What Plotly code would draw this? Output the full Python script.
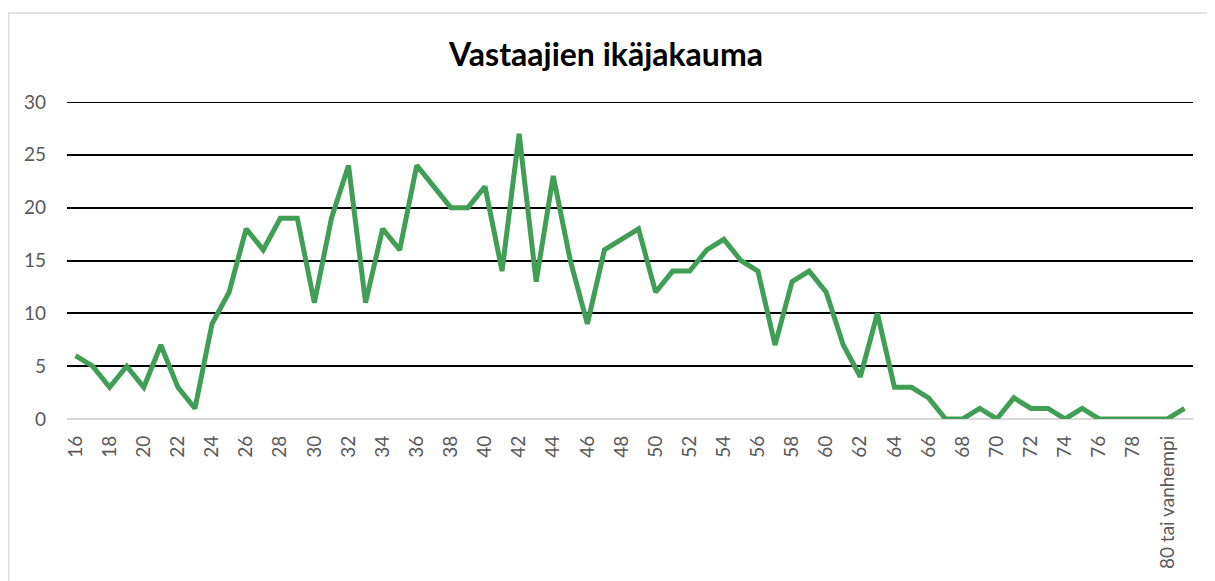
import plotly.graph_objects as go

# Data
ages = [str(a) for a in range(16, 80)] + ["80 tai vanhempi", ""]
counts = [6, 5, 3, 5, 3, 7, 3, 1, 9, 12,
          18, 16, 19, 19, 11, 19, 24, 11, 18, 16,
          24, 22, 20, 20, 22, 14, 27, 13, 23, 15,
          9, 16, 17, 18, 12, 14, 14, 16, 17, 15,
          14, 7, 13, 14, 12, 7, 4, 10, 3, 3,
          2, 0, 0, 1, 0, 2, 1, 1, 0, 1,
          0, 0, 0, 0, 0, 1]
y_ticks = [0, 5, 10, 15, 20, 25, 30]
title_text = "Vastaajien ikäjakauma"

x_idx = list(range(len(ages)))

fig = go.Figure()
fig.add_trace(go.Scatter(
    x=x_idx, y=counts, mode="lines",
    line=dict(color="#409e55", width=5),
    hoverinfo="skip",
))

# page body has an 8px margin
W, H = 1207, 573
L, T = 59, 94
PW, PH = 1126, 317
R, B = W - L - PW, H - T - PH

fig.update_layout(
    width=W, height=H,
    margin=dict(l=L, r=R, t=T, b=B, pad=0, autoexpand=False),
    paper_bgcolor="white", plot_bgcolor="white",
    showlegend=False,
    title=dict(text="<b>" + title_text + "</b>", x=(606 - 8) / W, xanchor="center",
               y=1 - 47 / H, yanchor="middle",
               font=dict(family="Lato", size=32, color="black")),
    xaxis=dict(
        range=[-0.5, len(ages) - 0.5],
        tickmode="array",
        tickvals=x_idx[::2], ticktext=ages[::2],
        tickangle=-90,
        showgrid=False, zeroline=False, showline=False,
        ticks="", ticklabelstandoff=12, automargin=False,
        tickfont=dict(family="Lato", size=19, color="#595959"),
        fixedrange=True,
    ),
    yaxis=dict(
        range=[0, 30],
        tickmode="array", tickvals=y_ticks,
        showgrid=True, gridcolor="black", gridwidth=1.8,
        zeroline=True, zerolinecolor="#d9d9d9", zerolinewidth=2,
        showline=False, ticks="", ticklabelstandoff=20, automargin=False,
        tickfont=dict(family="Lato", size=19, color="#595959"),
        fixedrange=True,
    ),
)

# top gridline (plotly skips gridlines lying exactly on the range edge)
fig.add_shape(type="line", xref="paper", yref="y",
              x0=0, x1=1, y0=y_ticks[-1], y1=y_ticks[-1],
              line=dict(color="black", width=1.8), layer="below")

# chart border (light gray frame, cropped at right/bottom)
fig.add_shape(type="rect", xref="paper", yref="paper",
              x0=(0.5 - L) / PW, x1=(W + 20 - L) / PW,
              y0=-(B + 20) / PH, y1=(H - 5 - B) / PH,
              line=dict(color="#d9d9d9", width=1.5), layer="below")

fig.write_html("out.html")
